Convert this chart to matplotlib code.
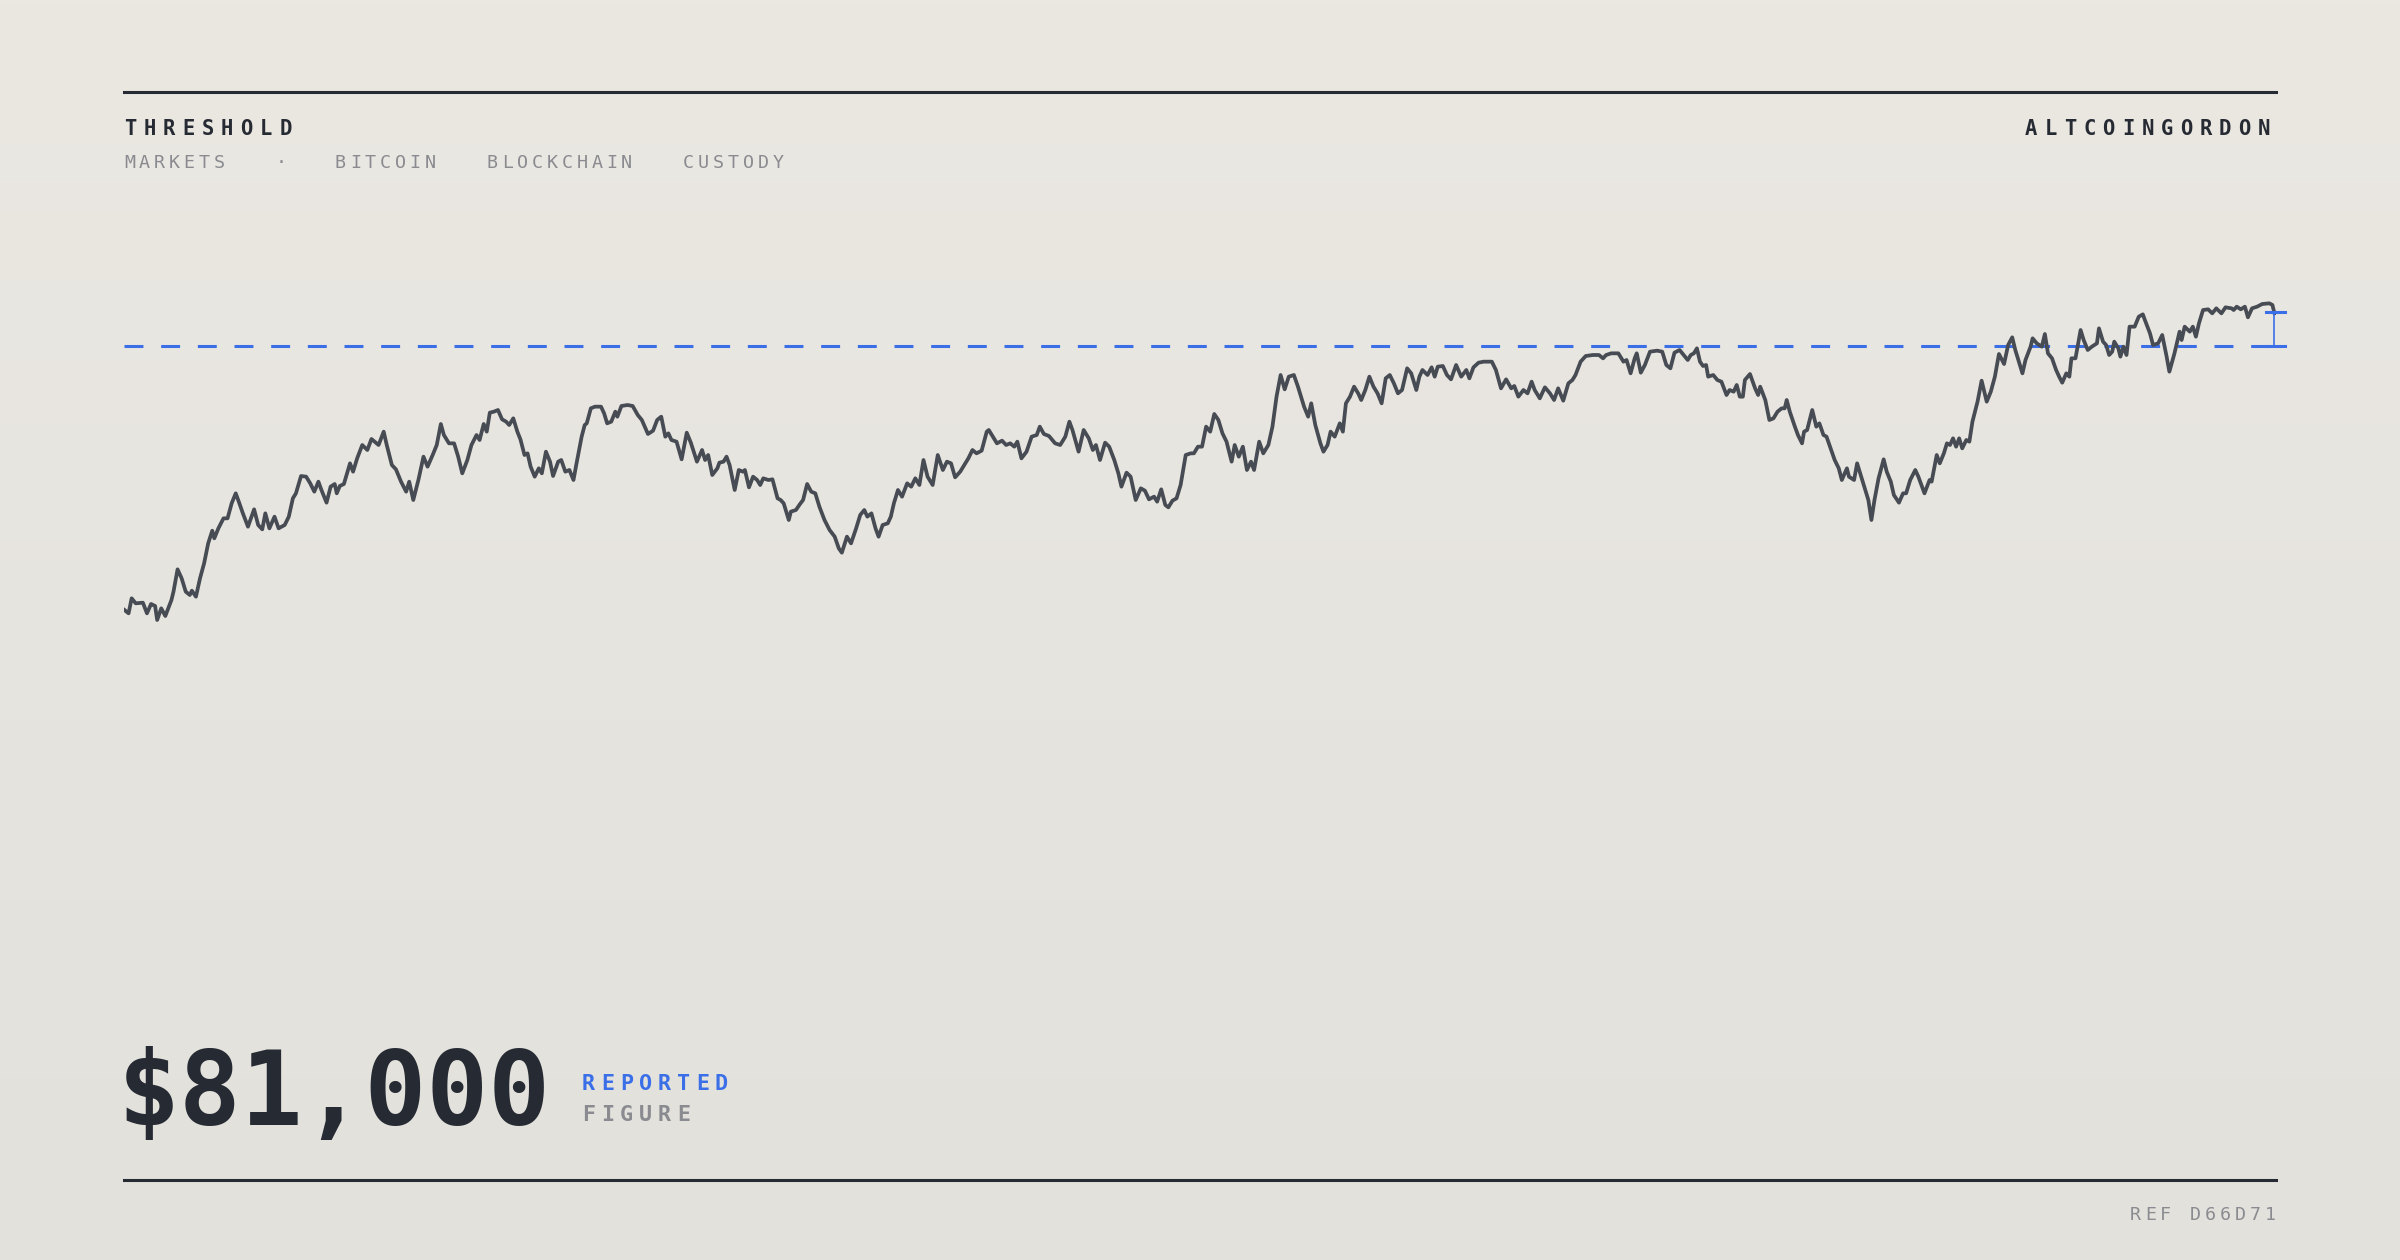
import numpy as np
import matplotlib
matplotlib.use("Agg")
import matplotlib.pyplot as plt

# ---- data (day index, price) ----
days = [24,28,31,35,42,46,50,54,56,60,64,70,72,76,80,84,88,90,94,98,102,106,110,112,116,121,125,129,133,136,140,145,151,155,159,162,166,171,175,181,185,189,192,197,202,206,210,214,217,222,226,230,232,235,239,245,248,252,257,262,266,273,278,281,286,290,295,300,303,307,312,317,321,326,330,334,337,342,347,351,355,360,364,369,372,376,379,382,386,390,394,398,401,405,409,412,416,419,422,426,430,433,437,441,444,449,452,456,460,464,467,472,475,477,481,485,491,494,497,501,505,507,511,517,522,527,531,537,542,546,550,554,557,560,565,570,575,579,585,590,593,596,600,605,607,611,614,617,622,626,630,632,636,640,644,647,650,655,659,664,667,670,675,677,682,686,689,693,697,701,705,710,715,720,724,727,732,736,741,745,749,752,756,760,763,767,772,775,778,782,
        786,791,795,799,803,807,811,816,821,826,830,834,838,843,846,851,855,859,864,869,871,875,879,884,888,892,896,899,903,908,913,918,921,925,930,936,941,946,950,953,959,964,969,973,976,980,985,989,994,998,1001,1006,1010,1015,1020,1024,1028,1033,1036,1040,1044,1047,1051,1055,1059,1064,1069,1072,1076,1080,1084,1088,1092,1096,1100,1104,1109,1112,1116,1120,1124,1128,1131,1136,1140,1145,1149,1153,1157,1161,1165,1170,1174,1180,1184,1187,1191,1196,1199,1203,1206,1210,1215,1218,1221,1225,1229,1233,1236,1240,1244,1248,1252,1256,1260,1264,1268,1272,1276,1281,1285,1290,1293,1296,1301,1305,1308,1311,1316,1320,1324,1329,1334,1339,1342,1346,1351,1356,1364,1368,1373,1378,1383,1386,1390,1395,1399,1403,1406,1411,1416,1421,1425,1429,1434,1439,1443,1446,1451,1456,1463,1469,1473,1476,1481,1488,1493,1496,1500,1504,1506,1510,1514,1519,1526,1531,1535,1539,1543,1548,
        1556,1559,1562,1565,1568,1571,1574,1576,1581,1585,1589,1594,1597,1601,1604,1607,1610,1612,1617,1622,1625,1627,1632,1636,1640,1644,1648,1651,1653,1656,1661,1664,1668,1670,1673,1678,1682,1685,1689,1692,1696,1700,1704,1707,1712,1714,1719,1722,1726,1729,1733,1736,1739,1743,1748,1751,1755,1758,1763,1767,1770,1774,1779,1782,1788,1793,1795,1800,1803,1807,1810,1813,1816,1819,1822,1825,1829,1832,1835,1840,1844,1849,1853,1857,1861,1866,1870,1874,1877,1880,1884,1887,1892,1894,1898,1903,1906,1909,1913,1917,1920,1923,1927,1930,1932,1936,1941,1944,1948,1952,1957,1959,1963,1966,1969,1972,1974,1978,1980,1983,1986,1989,1994,1998,2002,2004,2009,2012,2017,2021,2025,2028,2033,2038,2040,2043,2048,2051,2054,2057,2061,2066,2070,2074,2079,2083,2089,2091,2094,2098,2102,2105,2109,2114,2119,2126,2129,2131]
prices = [73080,72980,73430,73280,73300,72980,73260,73200,72780,73130,72900,73380,73630,74300,74030,73630,73530,73660,73480,74030,74480,75080,75460,75230,75530,75830,75830,76280,76580,76330,75980,75580,76100,75630,75500,75980,75530,75880,75530,75630,75880,76430,76580,77100,77080,76880,76630,76930,76680,76300,76780,76860,76580,76800,76860,77480,77230,77630,78030,77880,78210,78030,78430,78030,77430,77300,76930,76630,76930,76380,76980,77680,77380,77730,78030,78660,78330,78080,78080,77680,77180,77580,78030,78330,78180,78660,78430,79000,79030,79080,78800,78730,78630,78830,78430,78200,77730,77780,77380,77080,77330,77180,77830,77530,77100,77530,77580,77230,77280,76980,77480,78280,78630,78680,79130,79180,79180,78980,78680,78730,79030,78880,79200,79230,79200,78930,78780,78360,78460,78780,78880,78280,78380,78180,78130,77600,78400,78100,77530,77880,77580,77730,77130,77330,77500,77530,77680,77430,76680,77280,77230,77280,76760,77080,76980,76830,77030,76980,77000,76430,76380,76280,75780,76030,76080,76260,76380,76860,76630,76580,76180,75780,75480,75280,74930,74800,75280,75080,75530,75930,76080,75880,75980,75530,75280,75630,75680,75880,76280,76680,
          76480,76880,76780,77030,76830,77580,77080,76830,77730,77280,77530,77480,77060,77230,77380,77630,77880,77780,77860,78430,78480,78280,78080,78160,78030,78080,77980,78130,77630,77830,78280,78330,78580,78360,78300,78080,78030,78280,78730,78480,77830,78480,78230,77880,78030,77580,78100,77980,77580,77180,76780,77200,77080,76380,76730,76660,76400,76480,76330,76700,76230,76160,76360,76430,76830,77730,77780,77780,77980,77980,78580,78430,78960,78780,78380,78130,77530,78030,77680,77980,77280,77530,77280,78130,77780,78030,78580,79480,80130,79700,80080,80130,79780,79180,78880,79280,78630,78080,77830,78030,78430,78280,78680,78430,79280,79480,79780,79580,79380,79680,80080,79780,79580,79280,80030,80130,79880,79580,79680,80330,80180,79680,80080,80280,80130,80360,80080,80380,80400,80130,80000,80430,80080,80280,80030,80360,80500,80530,80530,80280,79730,80000,79730,79800,79480,79680,79580,79930,79680,79430,79760,79580,79380,79730,79360,79880,79980,80130,80530,80700,80730,80730,80630,80730,80780,80780,80530,80580,80180,80630,80780,80200,80430,80830,80860,80830,80430,80330,80800,80880,
          80580,80730,80780,80930,80530,80400,80430,80080,80130,79980,79930,79530,79680,79630,79830,79480,79480,79980,80160,79730,79530,79780,79380,78780,78830,79030,79130,79130,79380,79030,78580,78330,78080,78430,78480,79080,78580,78680,78330,78280,77930,77580,77330,76980,77330,77080,76980,77480,77080,76780,76380,75780,76380,77030,77600,77230,76930,76530,76300,76580,76580,76980,77280,77080,76580,76980,76930,77730,77480,77780,78080,78030,78230,77980,78230,77930,78180,78130,78730,79330,79960,79330,79630,80080,80760,80460,81030,81260,80880,80580,80180,80580,80980,81230,81080,80980,81360,80780,80630,80280,80080,79900,80180,80080,80630,80630,81480,81180,80880,80980,81080,81530,81130,81030,80730,80830,81130,80930,80680,80980,80730,81580,81580,81880,81950,81780,81380,81030,81080,81330,80730,80230,80780,81430,81180,81580,81430,81580,81280,81680,82080,82100,81980,82130,81980,82160,82130,82080,82180,82100,82180,81860,82130,82180,82260,82280,82230,81980]
threshold = 81000
headline = "$81,000"
title = "THRESHOLD"
brand = "ALTCOINGORDON"
tags = ["MARKETS", "·", "BITCOIN", "BLOCKCHAIN", "CUSTODY"]
ref = "REF D66D71"

W, H = 2400, 1260
DPI = 200
fig = plt.figure(figsize=(W / DPI, H / DPI), dpi=DPI)

# background gradient
bg = fig.add_axes([0, 0, 1, 1])
top = np.array([235, 232, 226]) / 255
bot = np.array([226, 225, 220]) / 255
t = np.linspace(0, 1, 256)[:, None]
grad = (top[None, :] * (1 - t) + bot[None, :] * t)[:, None, :]
bg.imshow(grad, aspect="auto", extent=[0, 1, 0, 1])
bg.set_axis_off()

def fx(px):
    return px / W

def fy(py):
    return 1 - py / H

INK = "#262a33"
GRAY = "#8a8b90"
BLUE = "#3a6fe8"
LINE = "#474b53"
MONO = "DejaVu Sans Mono"

def spaced(x, y, s, pitch, size, color, weight="normal", align="left", cw=None):
    n = len(s)
    if cw is None:
        cw = size * DPI / 72 * 0.6
    total = (n - 1) * pitch + cw
    x0 = x if align == "left" else x - total
    for i, ch in enumerate(s):
        fig.text(fx(x0 + i * pitch), fy(y), ch, fontsize=size, color=color,
                 family=MONO, weight=weight, ha="left", va="baseline")

# rules
for yy in (92, 1180):
    fig.add_artist(plt.Line2D([fx(124), fx(2276)], [fy(yy), fy(yy)], color=INK, lw=1.1))

spaced(124, 135, title, 19.4, 7.4, INK, "bold")
spaced(2270, 135, brand, 19.4, 7.4, INK, "bold", align="right")
tag_x = [124, 276, 335, 487, 683]
for tx, tg in zip(tag_x, tags):
    spaced(tx, 168, tg, 14.9, 6.6, GRAY)

fig.text(fx(118), fy(1125), headline, fontsize=37, color=INK, family=MONO,
         weight="bold", ha="left", va="baseline")
spaced(582, 1090, "REPORTED", 19, 7.8, BLUE, "bold")
spaced(582, 1121, "FIGURE", 19, 7.8, GRAY, "bold")
spaced(2276, 1220, ref, 15, 6.6, GRAY, align="right")

# chart
ax = fig.add_axes([fx(124), fy(650), (2276 - 124) / W, 400 / H])
ax.set_xlim(23.5, 2132.5)
ax.set_ylim(91380 - 30 * 650, 91380 - 30 * 250)
ax.set_axis_off()
ax.axhline(threshold, xmin=0, xmax=(2285 - 124) / (2276 - 124), color=BLUE, lw=1.1,
           dashes=(6.2, 5.8), clip_on=False)
ax.plot(days, prices, color=LINE, lw=1.35, solid_joinstyle="round")
last_d, last_p = days[-1], prices[-1]
ax.plot([last_d, last_d], [threshold, last_p + 50], color=BLUE, lw=0.6)
for yv in (threshold, last_p + 50):
    ax.plot([last_d - 8, last_d + 10], [yv, yv], color=BLUE, lw=1.1, clip_on=False)

fig.savefig("out.png", dpi=DPI)
